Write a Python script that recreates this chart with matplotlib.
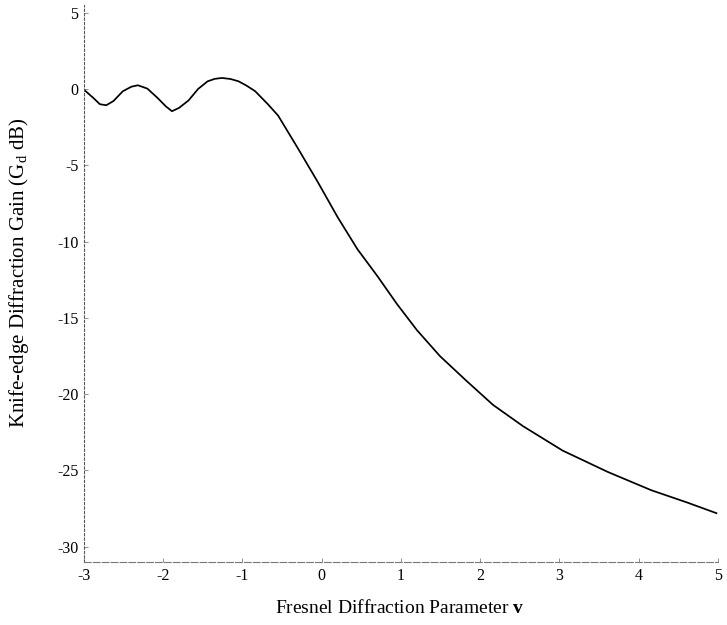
import matplotlib
matplotlib.use("Agg")
import matplotlib.pyplot as plt

# ── Data ─────────────────────────────────────────────────────────────────────
v_param = [-3.00, -2.88, -2.80, -2.72, -2.63, -2.51, -2.40, -2.32, -2.20,
           -2.07, -1.97, -1.89, -1.80, -1.68, -1.56, -1.44, -1.35, -1.26,
           -1.15, -1.05, -0.95, -0.84, -0.68, -0.55, -0.47, -0.30, -0.05,
           0.20, 0.45, 0.70, 0.95, 1.20, 1.49, 1.82, 2.16, 2.54, 3.04,
           3.61, 4.16, 4.61, 4.98]
gain_db = [-0.05, -0.60, -1.00, -1.07, -0.80, -0.15, 0.15, 0.24, 0.02,
           -0.60, -1.13, -1.46, -1.24, -0.75, 0.00, 0.50, 0.66, 0.72,
           0.65, 0.50, 0.22, -0.15, -1.00, -1.75, -2.44, -3.90, -6.10,
           -8.40, -10.50, -12.25, -14.10, -15.80, -17.50, -19.10, -20.70, -22.10, -23.70,
           -25.10, -26.30, -27.10, -27.80]

x_ticks = [-3, -2, -1, 0, 1, 2, 3, 4, 5]
y_ticks = [5, 0, -5, -10, -15, -20, -25, -30]

plt.rcParams["font.family"] = ["Liberation Serif", "DejaVu Serif"]
plt.rcParams["mathtext.fontset"] = "custom"
plt.rcParams["mathtext.rm"] = "Liberation Serif"
plt.rcParams["mathtext.it"] = "Liberation Serif:italic"
plt.rcParams["mathtext.bf"] = "Liberation Serif:bold"
plt.rcParams["axes.unicode_minus"] = False

fig = plt.figure(figsize=(7.27, 6.25), dpi=100)
ax = fig.add_axes([84 / 727, 63 / 625, 634 / 727, 557 / 625])

ax.plot(v_param, gain_db, color="black", lw=1.25, solid_joinstyle="round")

ax.set_xlim(-3, 5)
ax.set_ylim(-31, 5.5)
ax.set_xticks(x_ticks)
ax.set_yticks(y_ticks)
ax.set_xticklabels([str(t) for t in x_ticks])
ax.set_yticklabels([str(t) for t in y_ticks])
ax.tick_params(direction="in", length=3, width=0.6, color="gray",
               labelsize=11.5, pad=4)

for side in ["top", "right"]:
    ax.spines[side].set_visible(False)
ax.spines["left"].set_linestyle((0, (2, 2)))
ax.spines["left"].set_color("#555555")
ax.spines["left"].set_linewidth(0.8)
ax.spines["bottom"].set_linestyle((0, (6, 2)))
ax.spines["bottom"].set_color("#777777")
ax.spines["bottom"].set_linewidth(0.8)

ax.set_xlabel(r"Fresnel Diffraction Parameter $\mathbf{v}$", fontsize=14)
ax.set_ylabel(r"Knife-edge Diffraction Gain (G$_{\mathrm{d}}$ dB)", fontsize=15)
ax.xaxis.set_label_coords(0.498, -0.066)
ax.yaxis.set_label_coords(-0.083, 0.52)

fig.savefig("out.png", dpi=100)
